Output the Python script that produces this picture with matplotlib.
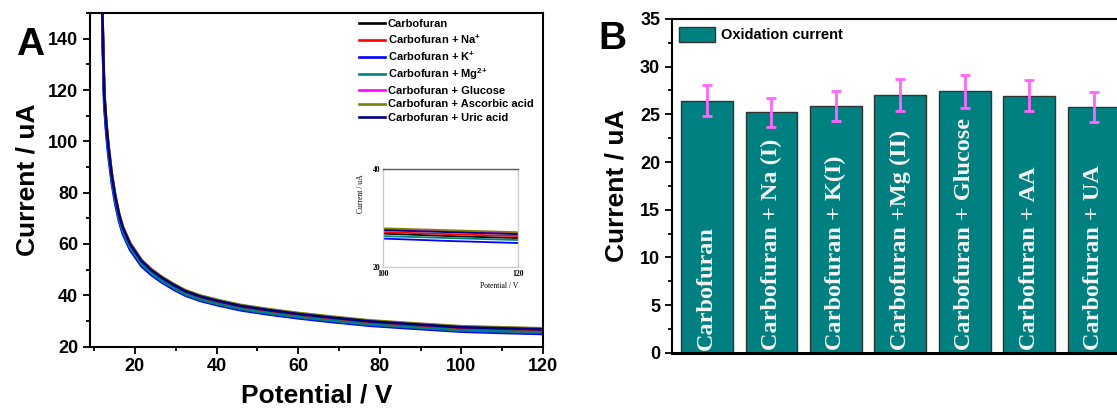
import matplotlib
matplotlib.use("Agg")
import matplotlib.pyplot as plt
from matplotlib.ticker import MultipleLocator

plt.rcParams["font.family"] = ["Liberation Sans", "DejaVu Sans"]
plt.rcParams["font.weight"] = "bold"
plt.rcParams["mathtext.fontset"] = "custom"
plt.rcParams["mathtext.rm"] = "Liberation Sans:bold"
plt.rcParams["mathtext.default"] = "rm"

# panel A: current vs potential for each interferent
potential = [12.0, 12.25, 12.5, 13.0, 13.5, 14.3, 15.2, 16.1, 17.0, 18.8, 21.6, 24.0,
             26.6, 29.5, 32.3, 36.0, 40.5, 46.0, 52.7, 60, 68, 77.6, 88, 100, 110, 120]
carbofuran = [150, 132, 116.3, 105, 96.7, 86, 77.2, 70.5, 65.5, 59.0, 52.5, 49.0,
              46.0, 43.2, 40.8, 38.7, 36.9, 35.0, 33.4, 31.9, 30.5, 29.0, 27.9, 26.8, 26.3, 25.9]
with_na = [151, 133, 117.2, 105.8, 97.4, 86.6, 77.7, 71.0, 65.9, 59.4, 52.9, 49.4,
           46.4, 43.6, 41.2, 39.1, 37.3, 35.4, 33.8, 32.3, 30.9, 29.4, 28.3, 27.1, 26.7, 26.3]
with_k = [147, 129, 113.5, 102.5, 94.4, 84, 75.4, 68.9, 64.0, 57.7, 51.3, 47.9,
          45.0, 42.2, 39.9, 37.8, 36.0, 34.1, 32.5, 31.0, 29.6, 28.1, 27.0, 25.8, 25.3, 24.9]
with_mg = [149, 131, 115.2, 104, 95.8, 85.2, 76.5, 69.9, 65.0, 58.6, 52.1, 48.6,
           45.6, 42.8, 40.4, 38.3, 36.5, 34.6, 33.0, 31.5, 30.1, 28.6, 27.5, 26.3, 25.9, 25.5]
with_glucose = [152, 134.5, 118.5, 107, 98.5, 87.5, 78.5, 71.8, 66.7, 60.2, 53.6, 50.0,
                47.0, 44.2, 41.8, 39.7, 37.9, 36.0, 34.4, 32.9, 31.5, 30.0, 28.9, 27.7, 27.3, 26.9]
with_aa = [153, 135, 119, 107.5, 99, 88, 79, 72.2, 67.0, 60.5, 53.8, 50.2,
           47.2, 44.4, 42.0, 39.9, 38.1, 36.2, 34.6, 33.1, 31.7, 30.2, 29.1, 27.9, 27.5, 27.1]
with_ua = [152, 134, 118, 106.5, 98.1, 87.2, 78.3, 71.6, 66.5, 60.0, 53.4, 49.8,
           46.8, 44.0, 41.6, 39.5, 37.7, 35.8, 34.2, 32.7, 31.3, 29.8, 28.7, 27.5, 27.1, 26.7]

series_labels = ["Carbofuran", "Carbofuran + Na$^{{+}}$", "Carbofuran + K$^{{+}}$",
                 "Carbofuran + Mg$^{2{+}}$", "Carbofuran + Glucose",
                 "Carbofuran + Ascorbic acid", "Carbofuran + Uric acid"]
series_values = [carbofuran, with_na, with_k, with_mg, with_glucose, with_aa, with_ua]
series_colors = ["black", "red", "#0000ff", "#008080", "#ff00ff", "#808000", "#000080"]

# panel B: oxidation current per sample
bar_labels = ["Carbofuran", "Carbofuran + Na (I)", "Carbofuran + K(I)",
              "Carbofuran +Mg (II)", "Carbofuran + Glucose", "Carbofuran + AA",
              "Carbofuran + UA"]
bar_values = [26.45, 25.2, 25.85, 27.05, 27.4, 26.95, 25.75]
bar_errors = [1.6, 1.5, 1.6, 1.65, 1.7, 1.6, 1.6]

fig = plt.figure(figsize=(11.17, 4.08), dpi=100)

# ---- panel A ----
ax = fig.add_axes([0.0806, 0.1507, 0.4055, 0.8173])
for vals, lab, col in zip(series_values, series_labels, series_colors):
    ax.plot(potential, vals, color=col, lw=1.9, label=lab)
ax.set_xlim(9, 120)
ax.set_ylim(20, 150)
ax.xaxis.set_major_locator(MultipleLocator(20))
ax.xaxis.set_minor_locator(MultipleLocator(10))
ax.yaxis.set_major_locator(MultipleLocator(20))
ax.yaxis.set_minor_locator(MultipleLocator(10))
ax.tick_params(which="both", direction="out", width=1.3, labelsize=13)
ax.tick_params(which="major", length=5)
ax.tick_params(which="minor", length=3)
for sp in ax.spines.values():
    sp.set_linewidth(1.5)
ax.set_xlabel("Potential / V", fontsize=19, fontweight="bold", labelpad=6)
ax.set_ylabel("Current / uA", fontsize=19, fontweight="bold", labelpad=6)
ax.legend(loc="upper left", bbox_to_anchor=(0.594, 0.983), frameon=False,
          fontsize=8, handlelength=2.3, handletextpad=0.3, labelspacing=0.33,
          borderpad=0, borderaxespad=0)
fig.text(0.027, 0.89, "A", fontsize=28, fontweight="bold", ha="center", va="center")

# inset zoom on the tail
ins = fig.add_axes([0.3429, 0.3456, 0.1209, 0.2402])
for vals, col in zip(series_values, series_colors):
    ins.plot(potential, vals, color=col, lw=1.3)
ins.set_xlim(100, 120)
ins.set_ylim(20, 40)
ins.set_xticks([100, 120])
ins.set_yticks([20, 40])
ins.tick_params(length=0, labelsize=5.5, pad=2)
for lab in ins.get_xticklabels() + ins.get_yticklabels():
    lab.set_family("Liberation Serif")
for name, sp in ins.spines.items():
    sp.set_color("#555555" if name == "top" else "#cccccc")
    sp.set_linewidth(1.0)
ins.set_xlabel("Potential / V", fontsize=5.5, family="Liberation Serif", loc="right", labelpad=3)
ins.set_ylabel("Current / uA", fontsize=5.5, family="Liberation Serif", labelpad=2)
ins.yaxis.set_label_coords(-0.13, 0.75)

# ---- panel B ----
bx = fig.add_axes([0.6016, 0.1355, 0.418, 0.818])
pos = range(len(bar_values))
bx.bar(pos, bar_values, width=0.8, color="#008080", edgecolor="#333333",
       linewidth=1, label="Oxidation current", zorder=2)
bx.errorbar(pos, bar_values, yerr=bar_errors, fmt="none", ecolor="#ff66ff",
            elinewidth=2, capsize=3.6, capthick=2, zorder=4)
for i, lab in enumerate(bar_labels):
    bx.text(i, 0.3, lab, rotation=90, ha="center", va="bottom", color="#f4f4f4",
            fontsize=17.5, fontweight="bold", family="Liberation Serif", zorder=3)
bx.set_xlim(-0.54, 6.70)
bx.set_ylim(0, 35)
bx.set_xticks([])
bx.yaxis.set_major_locator(MultipleLocator(5))
bx.yaxis.set_minor_locator(MultipleLocator(2.5))
bx.tick_params(which="both", direction="out", width=1.3, labelsize=13)
bx.tick_params(which="major", length=5)
bx.tick_params(which="minor", length=3)
bx.spines["right"].set_visible(False)
bx.spines["left"].set_linewidth(1.5)
bx.spines["top"].set_linewidth(1.5)
bx.spines["bottom"].set_linewidth(2.2)
bx.set_ylabel("Current / uA", fontsize=19, fontweight="bold", labelpad=8)
bx.legend(loc="upper left", bbox_to_anchor=(0.015, 0.976), frameon=False,
          fontsize=10.5, handlelength=2.5, handleheight=1.2, handletextpad=0.4,
          borderpad=0, borderaxespad=0)
fig.text(0.548, 0.905, "B", fontsize=28, fontweight="bold", ha="center", va="center")

fig.savefig("out.png", dpi=100)
